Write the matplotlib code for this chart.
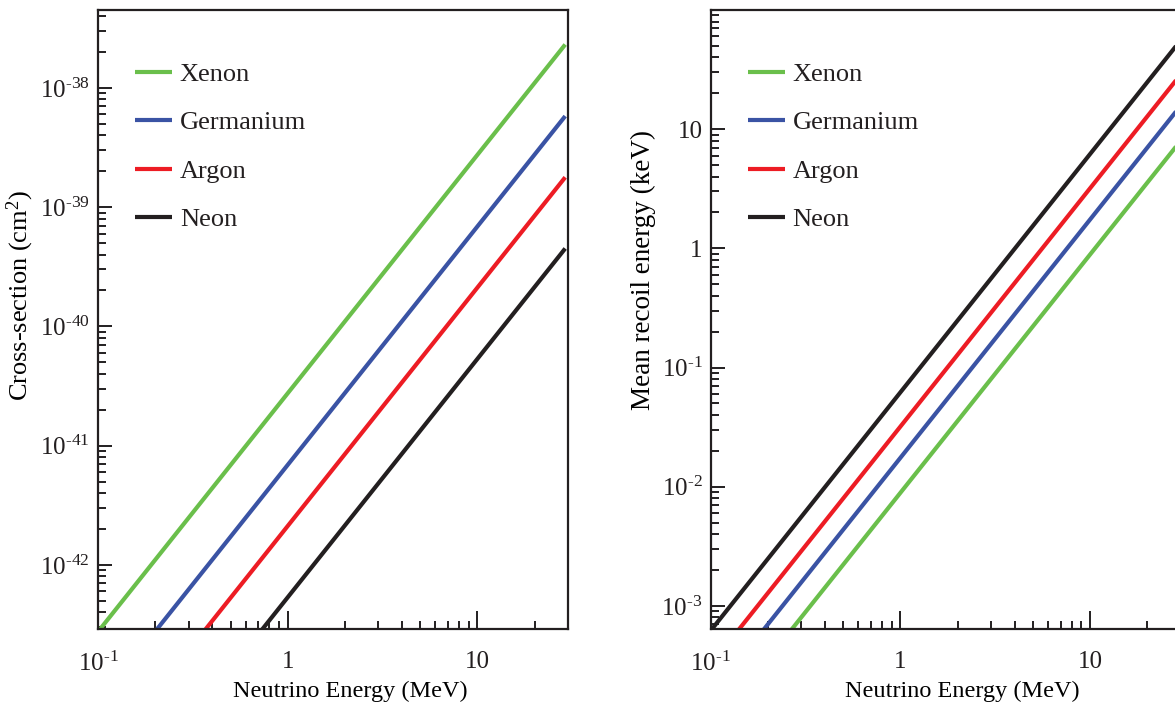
import matplotlib.pyplot as plt
from matplotlib.ticker import FixedLocator, LogLocator, NullFormatter

plt.rcParams.update({
    "font.family": "Liberation Serif",
    "mathtext.fontset": "custom",
    "mathtext.rm": "Liberation Serif",
    "mathtext.it": "Liberation Serif:italic",
    "mathtext.bf": "Liberation Serif:bold",
    "axes.linewidth": 1.6,
    "axes.edgecolor": "#231f20",
    "text.color": "#231f20",
    "xtick.color": "#231f20",
    "ytick.color": "#231f20",
})

ELEMENTS = ["Xenon", "Germanium", "Argon", "Neon"]
COLORS = ["#6abf4b", "#3a53a4", "#ed1c24", "#231f20"]

# coherent scattering cross-section (cm^2) vs neutrino energy (MeV)
XS_ENERGY = [0.1, 1, 10, 29]
XS_XENON = [2.75e-43, 2.75e-41, 2.75e-39, 2.31e-38]
XS_GERMANIUM = [6.9e-44, 6.9e-42, 6.9e-40, 5.80e-39]
XS_ARGON = [2.12e-44, 2.12e-42, 2.12e-40, 1.78e-39]
XS_NEON = [5.35e-45, 5.35e-43, 5.35e-41, 4.50e-40]

# mean nuclear recoil energy (keV) vs neutrino energy (MeV)
ER_ENERGY = [0.1, 1, 10, 30]
ER_XENON = [8.9e-5, 8.9e-3, 0.89, 8.0]
ER_GERMANIUM = [1.75e-4, 1.75e-2, 1.75, 15.75]
ER_ARGON = [3.2e-4, 3.2e-2, 3.2, 28.8]
ER_NEON = [6.2e-4, 6.2e-2, 6.2, 55.8]

X_TICKS = [0.1, 1, 10]
X_TICKLABELS = [r"$10^{\text{-}1}$", "1", "10"]
XS_TICKS = [1e-42, 1e-41, 1e-40, 1e-39, 1e-38]
XS_TICKLABELS = [r"$10^{\text{-}42}$", r"$10^{\text{-}41}$", r"$10^{\text{-}40}$",
                 r"$10^{\text{-}39}$", r"$10^{\text{-}38}$"]
ER_TICKS = [1e-3, 1e-2, 1e-1, 1, 10]
ER_TICKLABELS = [r"$10^{\text{-}3}$", r"$10^{\text{-}2}$", r"$10^{\text{-}1}$", "1", "10"]


def style_axis(ax, xlim, ylim, yticks, yticklabels):
    ax.set_xscale("log")
    ax.set_yscale("log")
    ax.set_xlim(*xlim)
    ax.set_ylim(*ylim)
    ax.xaxis.set_major_locator(FixedLocator(X_TICKS))
    ax.set_xticklabels(X_TICKLABELS)
    ax.yaxis.set_major_locator(FixedLocator(yticks))
    ax.set_yticklabels(yticklabels)
    for axis in (ax.xaxis, ax.yaxis):
        axis.set_minor_locator(LogLocator(base=10, subs=range(2, 10), numticks=50))
        axis.set_minor_formatter(NullFormatter())
    ax.tick_params(which="both", direction="in", top=False, right=False, width=1.4)
    ax.tick_params(axis="x", which="major", length=13, pad=16, labelsize=18)
    ax.tick_params(axis="y", which="major", length=10, pad=6, labelsize=18)
    ax.tick_params(which="minor", length=5.5)
    ax.set_xlabel("Neutrino Energy (MeV)", fontsize=17.5)
    ax.xaxis.set_label_coords(0.536, -0.083)


def add_legend(ax):
    ax.legend(loc="upper left", bbox_to_anchor=(0.056, 0.9325), frameon=False,
              fontsize=19, handlelength=1.4, handletextpad=0.3,
              labelspacing=0.95, borderaxespad=0)


fig = plt.figure(figsize=(11.75, 7.02), dpi=100)

ax1 = fig.add_axes([98 / 1175, 1 - 629 / 702, 470 / 1175, 619 / 702])
for label, color, ys in zip(ELEMENTS, COLORS, [XS_XENON, XS_GERMANIUM, XS_ARGON, XS_NEON]):
    ax1.plot(XS_ENERGY, ys, color=color, lw=3, label=label, solid_capstyle="butt")
style_axis(ax1, (0.1, 30), (2.9e-43, 4.5e-38), XS_TICKS, XS_TICKLABELS)
ax1.set_ylabel(r"Cross-section (cm$^{2}$)", fontsize=19)
ax1.yaxis.set_label_coords(-0.132, 0.538)
add_legend(ax1)

ax2 = fig.add_axes([710.7 / 1175, 1 - 629 / 702, 470 / 1175, 619 / 702])
for label, color, ys in zip(ELEMENTS, COLORS, [ER_XENON, ER_GERMANIUM, ER_ARGON, ER_NEON]):
    ax2.plot(ER_ENERGY, ys, color=color, lw=3, label=label, solid_capstyle="butt")
style_axis(ax2, (0.1, 30), (6.4e-4, 100), ER_TICKS, ER_TICKLABELS)
ax2.set_ylabel("Mean recoil energy (keV)", fontsize=19.5)
ax2.yaxis.set_label_coords(-0.116, 0.58)
add_legend(ax2)

fig.savefig("out.png", dpi=100, facecolor="white")
